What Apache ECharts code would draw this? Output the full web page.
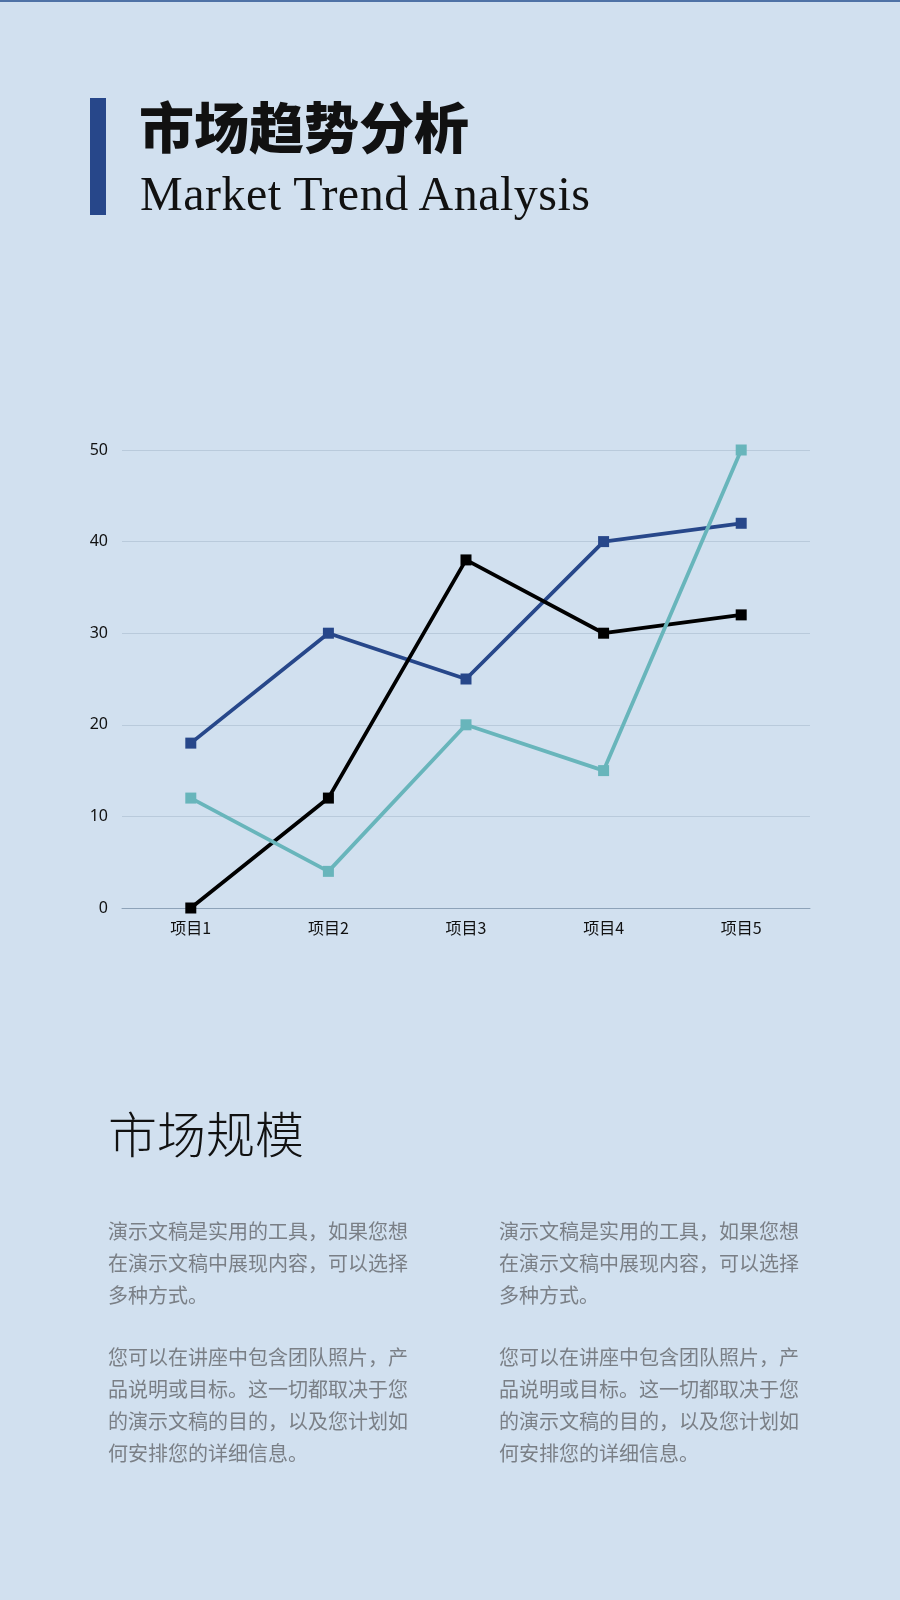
<!DOCTYPE html>
<html>
<head>
<meta charset="utf-8">
<script src="https://cdn.jsdelivr.net/npm/echarts@6/dist/echarts.min.js"></script>
<style>
  html, body { margin: 0; padding: 0; }
  body { width: 900px; height: 1600px; background: #d1e0ef; position: relative; overflow: hidden; font-family: "Noto Sans CJK SC", "Noto Sans", sans-serif; }
  #topline { position: absolute; left: 0; top: 0; width: 900px; height: 2px; background: #4f72a6; }
  #chart { position: absolute; left: 0; top: 0; width: 900px; height: 1600px; }
  #bar { position: absolute; left: 90px; top: 98px; width: 16px; height: 117px; background: #27478a; }
  #title { position: absolute; left: 139px; top: 84px; font-size: 55px; font-weight: 900; color: #111; font-family: "Noto Sans CJK SC", sans-serif; line-height: 80px; letter-spacing: 0px; white-space: nowrap; }
  #subtitle { position: absolute; left: 140px; top: 164px; font-size: 48px; color: #111; font-family: "Liberation Serif", "DejaVu Serif", serif; line-height: 60px; white-space: nowrap; letter-spacing: 0.5px; }
  #h2 { position: absolute; left: 108px; top: 1100px; font-size: 49px; font-weight: 300; color: #111; line-height: 64px; white-space: nowrap; }
  .col { position: absolute; top: 1215px; width: 304px; font-size: 20px; line-height: 32px; color: #7a7f86; }
  .col p { margin: 0 0 30px 0; }
  #c1 { left: 108px; }
  #c2 { left: 499px; }
</style>
</head>
<body>
<div id="topline"></div>
<div id="chart"></div>
<div id="bar"></div>
<div id="title">市场趋势分析</div>
<div id="subtitle">Market Trend Analysis</div>
<div id="h2">市场规模</div>
<div class="col" id="c1"><p>演示文稿是实用的工具，如果您想在演示文稿中展现内容，可以选择多种方式。</p><p>您可以在讲座中包含团队照片，产品说明或目标。这一切都取决于您的演示文稿的目的，以及您计划如何安排您的详细信息。</p></div>
<div class="col" id="c2"><p>演示文稿是实用的工具，如果您想在演示文稿中展现内容，可以选择多种方式。</p><p>您可以在讲座中包含团队照片，产品说明或目标。这一切都取决于您的演示文稿的目的，以及您计划如何安排您的详细信息。</p></div>
<script>
const categories = ["项目1", "项目2", "项目3", "项目4", "项目5"];
const yTicks = [0, 10, 20, 30, 40, 50];
const seriesBlue = [18, 30, 25, 40, 42];
const seriesBlack = [0, 12, 38, 30, 32];
const seriesTeal = [12, 4, 20, 15, 50];

const chart = echarts.init(document.getElementById('chart'), null, { renderer: 'canvas' });
function line(name, data, color) {
  return {
    name: name, type: 'line', data: data,
    symbol: 'rect', symbolSize: 11,
    lineStyle: { color: color, width: 3.8 },
    itemStyle: { color: color },
    animation: false
  };
}
chart.setOption({
  backgroundColor: 'transparent',
  animation: false,
  grid: { left: 122, right: 90, top: 450, bottom: 692, containLabel: false },
  xAxis: {
    type: 'category', data: categories, boundaryGap: true,
    axisLine: { show: true, lineStyle: { color: '#8da2b8', width: 1 } },
    axisTick: { show: false },
    axisLabel: { color: '#111', fontSize: 16, margin: 12, fontFamily: 'Noto Sans CJK SC' }
  },
  yAxis: {
    type: 'value', min: yTicks[0], max: yTicks[yTicks.length - 1], interval: 10,
    axisLine: { show: false }, axisTick: { show: false },
    axisLabel: { color: '#111', fontSize: 16, margin: 14, fontFamily: 'Noto Sans' },
    splitLine: { lineStyle: { color: '#b9cadb', width: 1 } }
  },
  series: [
    line('系列1', seriesBlue, '#27478a'),
    line('系列2', seriesBlack, '#000000'),
    line('系列3', seriesTeal, '#68b5bb')
  ]
});
</script>
</body>
</html>
